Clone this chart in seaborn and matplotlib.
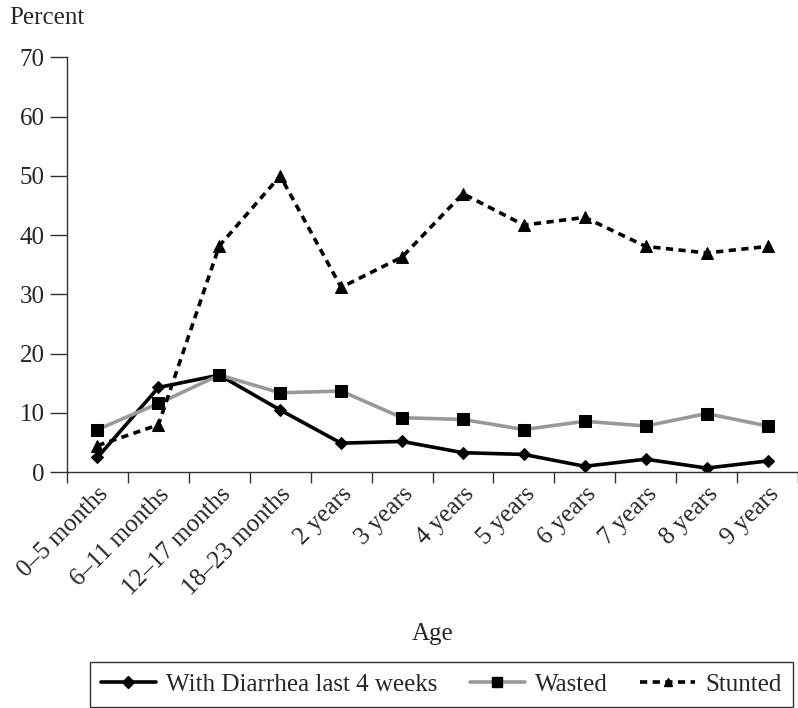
import numpy as np
import pandas as pd
import matplotlib
matplotlib.use("Agg")
import matplotlib.pyplot as plt
import seaborn as sns
from matplotlib.ticker import FixedLocator
from matplotlib.lines import Line2D

ages = ["0–5 months", "6–11 months", "12–17 months", "18–23 months", "2 years",
        "3 years", "4 years", "5 years", "6 years", "7 years", "8 years", "9 years"]
diarrhea = [2.5, 14.3, 16.4, 10.5, 4.9, 5.2, 3.3, 3.0, 1.0, 2.2, 0.7, 1.9]
wasted = [7.2, 11.6, 16.4, 13.4, 13.7, 9.2, 8.9, 7.2, 8.6, 7.8, 9.9, 7.8]
stunted = [4.5, 8.0, 38.2, 50.0, 31.2, 36.3, 47.0, 41.7, 43.0, 38.1, 37.0, 38.1]
series_names = ["With Diarrhea last 4 weeks", "Wasted", "Stunted"]

sns.set_style("white")
plt.rcParams['font.family'] = ['Liberation Serif', 'DejaVu Serif']

df = pd.DataFrame({
    "Age": ages * 3,
    "Percent": diarrhea + wasted + stunted,
    "Series": [series_names[0]] * 12 + [series_names[1]] * 12 + [series_names[2]] * 12,
})

FS = 18
fig = plt.figure(figsize=(7.98, 7.08), dpi=100)
ax = fig.add_axes([0.084, 0.333, 0.916, 0.586])

dash = (2.0, 1.5)
sns.lineplot(data=df, x="Age", y="Percent", hue="Series", style="Series",
             palette={series_names[0]: "black", series_names[1]: "#999999", series_names[2]: "black"},
             markers={series_names[0]: "D", series_names[1]: "s", series_names[2]: "^"},
             dashes={series_names[0]: "", series_names[1]: "", series_names[2]: dash},
             linewidth=2.6, markersize=8, markeredgecolor="black",
             sort=False, ax=ax, legend=False)
for ln, ms in zip(ax.get_lines(), [6.5, 8.5, 8]):
    ln.set_markerfacecolor("black")
    ln.set_markeredgecolor("black")
    ln.set_markersize(ms)

ax.set_ylim(0, 70)
ax.set_xlim(-0.5, 11.5)
ax.set_yticks(np.arange(0, 71, 10))
ax.set_xticks(range(12))
ax.set_xticklabels(ages, rotation=45, ha="right", rotation_mode="anchor", fontsize=FS)
ax.xaxis.set_minor_locator(FixedLocator(np.arange(-0.5, 12, 1)))
ax.tick_params(axis="x", which="major", length=0, pad=8)
ax.tick_params(axis="x", which="minor", length=8, width=1, direction="out", color="#333333", bottom=True)
ax.tick_params(axis="y", length=12, width=1, direction="out", color="#333333", labelsize=FS, pad=4, left=True)

for s in ["top", "right"]:
    ax.spines[s].set_visible(False)
for s in ["left", "bottom"]:
    ax.spines[s].set_color("#333333")
    ax.spines[s].set_linewidth(1.0)

ax.set_ylabel("")
ax.set_xlabel("Age", fontsize=FS, labelpad=17)
fig.text(0.012, 0.975, "Percent", fontsize=FS, va="center", ha="left")

handles = [
    Line2D([], [], color="black", lw=2.6, marker="D", markersize=6, markerfacecolor="black"),
    Line2D([], [], color="#999999", lw=2.6, marker="s", markersize=7, markerfacecolor="black", markeredgecolor="black"),
    Line2D([], [], color="black", lw=2.6, ls=(0, dash), marker="^", markersize=6, markerfacecolor="black"),
]
leg = fig.legend(handles, series_names, loc="center", bbox_to_anchor=(0.553, 0.0335), ncol=3,
                 fontsize=FS, frameon=True, fancybox=False, edgecolor="black",
                 handlelength=2.2, columnspacing=1.3, handletextpad=0.4, borderpad=0.45,
                 borderaxespad=0)
leg.get_frame().set_linewidth(1.0)

fig.savefig("out.png", dpi=100)
